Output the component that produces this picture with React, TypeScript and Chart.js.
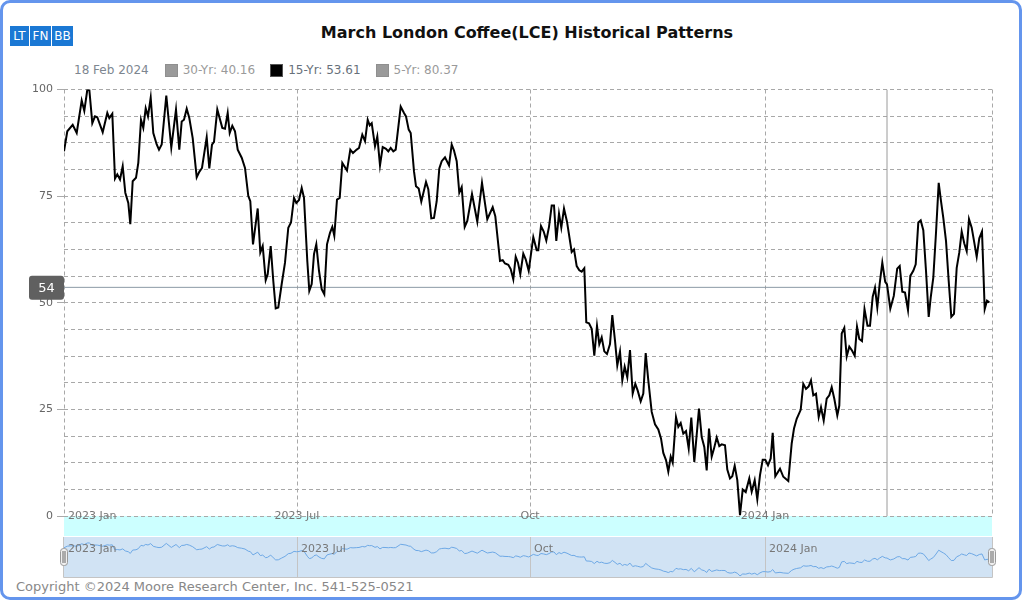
import React, { useEffect, useRef } from "react";
import { Chart, registerables } from "chart.js";

Chart.register(...registerables);

const FONT = "'DejaVu Sans', Verdana, sans-serif";

// position along the time axis (chart units) and the 15-year pattern value
const xPos = [
  0, 3.3, 8.7, 12.7, 17.7, 20.3, 23.3, 25.3, 28.3, 31,
  33.3, 38.7, 43.3, 45.3, 48.3, 51, 53.3, 56, 58.7, 61.3,
  64.3, 66.3, 68.7, 72, 74.3, 77, 79.3, 81.7, 84, 86.7,
  89.3, 92.7, 95, 97.7, 102.3, 107.3, 112, 115.3, 117.7, 120,
  122.7, 125.3, 128.7, 132.7, 135.3, 138, 142.7, 145.3, 148, 150,
  153.3, 158.3, 161, 163.7, 165.7, 168.3, 171, 173.7, 177.7, 181,
  184.3, 186.3, 189, 193.7, 196.3, 198.7, 201.7, 203.7, 206.7, 209.3,
  211.7, 214.3, 217.7, 221, 224.3, 227, 230, 232.3, 235, 237.7,
  240, 243.3, 245.3, 247.7, 250, 252.3, 255, 257.7, 260.3, 263,
  266, 268.3, 270.3, 273, 275.7, 278.3, 283, 286.3, 289, 292.7,
  295, 298.3, 301, 303.7, 305.7, 307.7, 311, 313.3, 316, 318.7,
  322, 324.3, 326.7, 329.3, 331.7, 336.7, 340, 342, 344.7, 346.7,
  350, 352, 354.7, 357.3, 362, 364.3, 367.3, 370, 372.7, 375.3,
  377.7, 381, 385, 387.7, 390, 392.7, 395.3, 397.7, 400.7, 403.3,
  408, 413.3, 418, 423.3, 428.7, 431.3, 436, 438.7, 441, 444.3,
  446.7, 449.3, 451.7, 454, 456.3, 459.3, 461.7, 464.7, 469.3, 472.7,
  474.3, 477, 479.7, 482.3, 485, 487.7, 490, 492.3, 495, 497.3,
  500, 503, 507.7, 510, 512.7, 515.3, 517.7, 520.3, 522.3, 525,
  527.7, 530.3, 533, 535.3, 537.7, 540.3, 543, 546, 548.3, 551,
  553.3, 556, 558.3, 560.7, 563.3, 566, 568.7, 571.3, 573.7, 576.7,
  579.3, 581.7, 584.3, 587.7, 591, 594.3, 597, 599.3, 602, 604.3,
  606.7, 608.7, 612, 614.3, 616.7, 619.3, 622, 624.7, 627.3, 630.3,
  635, 637.7, 640.3, 642.7, 645, 647.7, 650, 652.7, 655.3, 657.7,
  661, 663.3, 666, 668.3, 670.7, 673.3, 676, 678.7, 681.7, 685.3,
  687.7, 690.7, 693.3, 696, 698.7, 701.3, 704, 706.7, 708.7, 711.3,
  716, 719.3, 724.3, 727.7, 730, 732.7, 736.7, 739.3, 742, 744.7,
  747, 749.3, 752, 754.7, 757, 759.7, 762.7, 765.3, 767.7, 770.3,
  773.3, 775.3, 777.7, 780.3, 782.7, 785.3, 788, 790.7, 793, 795.3,
  798, 800.5, 803.5, 806, 808.7, 811, 813.3, 815.7, 818.3, 821.2,
  823, 826.3, 829.8, 833.2, 835.7, 838.3, 841, 844, 846.3, 849.3,
  851.7, 854.3, 856.7, 859.3, 862, 864.7, 866.7, 869.3, 872, 874.7,
  877, 879.3, 882, 884.7, 887.3, 890, 892.7, 895.3, 897.7, 900.3,
  902.7, 905, 907.7, 910, 912.7, 915.3, 918, 920.7, 923, 925.3,
];

const values15 = [
  85.5, 90.2, 91.7, 89.8, 97.4, 95.0, 99.9, 100, 92.1, 93.7,
  93.5, 90.0, 94.5, 93.3, 94.3, 79.1, 80.1, 78.9, 82.0, 75.8,
  73.4, 68.4, 78.5, 79.3, 82.8, 92.9, 91.0, 95.6, 93.7, 98.1,
  89.8, 87.1, 85.9, 87.1, 98.6, 86.4, 95.3, 85.9, 92.5, 92.9,
  95.5, 93.3, 88.6, 79.4, 80.7, 81.6, 88.8, 81.5, 87.1, 87.7,
  95.3, 91.0, 90.8, 94.5, 89.8, 91.5, 90.2, 85.9, 84.0, 81.6,
  75.0, 73.8, 63.7, 72.1, 61.8, 63.3, 55.3, 56.7, 63.3, 55.1,
  48.7, 48.9, 54.4, 59.4, 67.6, 68.8, 74.6, 73.4, 74.1, 76.9,
  74.6, 59.8, 52.8, 54.4, 61.4, 63.7, 57.5, 53.2, 52.0, 63.7,
  66.4, 67.8, 65.7, 74.2, 74.6, 82.8, 81.0, 85.9, 85.1, 85.9,
  86.3, 89.4, 87.9, 92.9, 91.6, 92.1, 86.7, 89.0, 82.2, 86.5,
  86.1, 85.5, 86.3, 85.5, 85.9, 96.0, 94.5, 93.7, 90.6, 89.8,
  80.8, 77.3, 76.8, 73.7, 78.3, 76.6, 69.8, 69.9, 73.8, 81.5,
  83.2, 84.1, 82.2, 87.1, 85.7, 83.2, 75.8, 77.1, 67.8, 69.2,
  75.5, 69.0, 78.1, 69.6, 72.4, 70.3, 59.8, 60.0, 59.2, 58.9,
  57.9, 55.5, 60.8, 59.4, 56.7, 61.5, 60.2, 57.5, 65.4, 62.3,
  62.3, 68.0, 66.7, 64.6, 67.8, 72.8, 72.8, 64.5, 70.9, 67.6,
  72.1, 69.0, 61.9, 62.5, 58.6, 57.6, 57.3, 58.1, 45.4, 45.2,
  43.9, 37.6, 44.6, 40.3, 41.9, 38.6, 38.0, 40.3, 47.1, 41.1,
  35.3, 38.6, 31.8, 35.0, 32.5, 38.9, 28.7, 31.0, 29.4, 26.9,
  28.7, 38.2, 31.8, 24.4, 21.5, 20.3, 18.2, 14.8, 13.1, 10.4,
  13.9, 12.5, 23.2, 20.9, 21.8, 19.3, 19.9, 15.8, 23.1, 12.7,
  25.2, 18.5, 16.2, 10.7, 20.5, 13.9, 15.8, 18.4, 16.4, 16.8,
  16.6, 10.9, 8.8, 9.3, 11.8, 8.4, 0.2, 6.2, 5.6, 8.8,
  5.7, 8.4, 3.9, 9.6, 13.2, 13.2, 11.9, 13.5, 19.5, 9.3,
  11.1, 9.2, 8.2, 17.0, 20.5, 22.8, 24.9, 31.0, 29.8, 30.4,
  31.8, 28.3, 28.7, 23.2, 25.5, 22.4, 27.5, 28.3, 30.2, 27.5,
  23.6, 25.9, 42.8, 44.1, 37.4, 39.7, 38.8, 37.6, 44.4, 41.5,
  41.0, 48.5, 44.6, 44.6, 51.4, 53.5, 48.9, 54.5, 59.4, 54.9,
  54.3, 48.6, 51.6, 58.0, 58.6, 52.6, 52.4, 48.3, 56.3, 57.5,
  59.0, 68.8, 69.3, 67.0, 57.5, 46.7, 51.2, 55.9, 66.4, 78.1,
  73.8, 69.9, 64.5, 55.1, 46.7, 47.4, 58.2, 61.8, 66.7, 63.9,
  62.1, 69.6, 67.6, 64.5, 60.8, 65.1, 66.7, 48.5, 50.5, 50.1,
];

const tickPos = [0, 233, 466, 701];
const tickLabels = ["2023 Jan", "2023 Jul", "Oct", "2024 Jan"];
const xMax = 928;
const yTickStep = 6.25;
const yLabelStep = 25;
const currentDatePos = 823;
const currentDateLabel = "18 Feb 2024";
const currentValue = 53.61;

const legendLabels = ["30-Yr", "15-Yr", "5-Yr"];
const legendValues = [40.16, 53.61, 80.37];
const legendActive = [false, true, false];

const titleText = "March London Coffee(LCE) Historical Patterns";
const logoLabels = ["LT", "FN", "BB"];
const footerText = "Copyright \u00a92024 Moore Research Center, Inc. 541-525-0521";

const points = () =>
  xPos.slice(0, Math.min(xPos.length, values15.length)).map((x, i) => ({ x, y: values15[i] }));

function roundRect(ctx: CanvasRenderingContext2D, x: number, y: number, w: number, h: number, r: number) {
  ctx.beginPath();
  ctx.moveTo(x + r, y);
  ctx.lineTo(x + w - r, y);
  ctx.quadraticCurveTo(x + w, y, x + w, y + r);
  ctx.lineTo(x + w, y + h - r);
  ctx.quadraticCurveTo(x + w, y + h, x + w - r, y + h);
  ctx.lineTo(x + r, y + h);
  ctx.quadraticCurveTo(x, y + h, x, y + h - r);
  ctx.lineTo(x, y + r);
  ctx.quadraticCurveTo(x, y, x + r, y);
  ctx.closePath();
}

const mainDecor = {
  id: "mainDecor",
  beforeDraw(chart: any) {
    const { ctx, chartArea } = chart;
    ctx.save();
    ctx.fillStyle = "#ccffff";
    ctx.fillRect(chartArea.left, chartArea.bottom, chartArea.right - chartArea.left, 20);
    ctx.restore();
  },
  afterDraw(chart: any) {
    const { ctx, chartArea, scales } = chart;
    ctx.save();
    ctx.font = `11px ${FONT}`;
    ctx.fillStyle = "#777";
    ctx.textBaseline = "middle";
    tickPos.forEach((v, i) => {
      const px = scales.x.getPixelForValue(v);
      if (i === 0) {
        ctx.textAlign = "left";
        ctx.fillText(tickLabels[i], px + 4, chartArea.bottom);
      } else {
        ctx.textAlign = "center";
        ctx.fillText(tickLabels[i], px, chartArea.bottom);
      }
    });
    const y = scales.y.getPixelForValue(currentValue);
    ctx.fillStyle = "#606060";
    roundRect(ctx, 29, y - 11.5, 35, 24, 3);
    ctx.fill();
    ctx.fillStyle = "#ffffff";
    ctx.font = `13px ${FONT}`;
    ctx.textAlign = "center";
    ctx.fillText(String(Math.round(currentValue)), 46.5, y + 1);
    ctx.restore();
  },
};

const navDecor = {
  id: "navDecor",
  beforeDraw(chart: any) {
    const { ctx, chartArea } = chart;
    ctx.save();
    ctx.fillStyle = "#d1e3f4";
    ctx.fillRect(chartArea.left, chartArea.top, chartArea.right - chartArea.left, chartArea.bottom - chartArea.top);
    ctx.restore();
  },
  afterDraw(chart: any) {
    const { ctx, chartArea, scales } = chart;
    ctx.save();
    ctx.font = `11px ${FONT}`;
    ctx.fillStyle = "#777";
    ctx.textBaseline = "middle";
    ctx.textAlign = "left";
    tickPos.forEach((v, i) => {
      const px = scales.x.getPixelForValue(v);
      ctx.fillText(tickLabels[i], px + 4, chartArea.top + 12);
    });
    ctx.strokeStyle = "#c4c4c4";
    ctx.lineWidth = 1;
    ctx.beginPath();
    ctx.moveTo(chartArea.left - 0.5, chartArea.top);
    ctx.lineTo(chartArea.left - 0.5, chartArea.bottom + 0.5);
    ctx.lineTo(chartArea.right + 0.5, chartArea.bottom + 0.5);
    ctx.lineTo(chartArea.right + 0.5, chartArea.top);
    ctx.stroke();
    [chartArea.left - 4, chartArea.right - 4].forEach((hx) => {
      roundRect(ctx, hx + 0.5, chartArea.top + 11.5, 7, 17, 3);
      ctx.fillStyle = "#efefef";
      ctx.fill();
      ctx.strokeStyle = "#9a9a9a";
      ctx.stroke();
      ctx.fillStyle = "#ababab";
      ctx.fillRect(hx + 2, chartArea.top + 14, 4, 12);
    });
    ctx.restore();
  },
};

export default function App() {
  const mainRef = useRef<HTMLCanvasElement>(null);
  const navRef = useRef<HTMLCanvasElement>(null);

  useEffect(() => {
    if (!mainRef.current || !navRef.current) return;
    const main = new Chart(mainRef.current, {
      type: "line",
      data: {
        datasets: [
          {
            data: points(),
            borderColor: "#000000",
            borderWidth: 2,
            pointRadius: 0,
            tension: 0,
            order: 0,
          },
          {
            data: [
              { x: 0, y: currentValue },
              { x: xMax, y: currentValue },
            ],
            borderColor: "#8c9aa6",
            borderWidth: 1,
            pointRadius: 0,
            order: 1,
          },
          {
            data: [
              { x: currentDatePos, y: 0 },
              { x: currentDatePos, y: 100 },
            ],
            borderColor: "#9a9a9a",
            borderWidth: 1,
            pointRadius: 0,
            order: 1,
          },
        ],
      },
      options: {
        animation: false,
        responsive: false,
        maintainAspectRatio: false,
        events: [],
        layout: { padding: { left: 0, right: 32, top: 8, bottom: 24 } },
        plugins: { legend: { display: false }, tooltip: { enabled: false }, title: { display: false } },
        scales: {
          x: {
            type: "linear",
            min: 0,
            max: xMax,
            afterBuildTicks: (s: any) => {
              s.ticks = [...tickPos, xMax].map((v) => ({ value: v }));
            },
            ticks: { display: false },
            grid: { color: "#a8a8a8", drawTicks: false, tickLength: 0 },
            border: { display: false, dash: [4, 3] },
            afterFit: (s: any) => {
              s.height = 0;
            },
          },
          y: {
            min: 0,
            max: 100,
            ticks: {
              stepSize: yTickStep,
              autoSkip: false,
              callback: (v: any) => (Number(v) % yLabelStep === 0 ? String(v) : ""),
              color: "#666666",
              font: { family: FONT, size: 11, lineHeight: 1 },
              padding: 4,
            },
            grid: {
              color: "#a8a8a8",
              tickLength: 7,
              tickBorderDash: [],
              tickColor: (c: any) =>
                c.tick && Number(c.tick.value) % yLabelStep === 0 ? "#aaaaaa" : "rgba(0,0,0,0)",
            },
            border: { display: false, dash: [4, 3] },
            afterFit: (s: any) => {
              s.width = 64;
            },
          },
        },
      } as any,
      plugins: [mainDecor],
    });

    const nav = new Chart(navRef.current, {
      type: "line",
      data: {
        datasets: [
          {
            data: points(),
            borderColor: "#6ea9e6",
            borderWidth: 1,
            pointRadius: 0,
            tension: 0,
          },
        ],
      },
      options: {
        animation: false,
        responsive: false,
        maintainAspectRatio: false,
        events: [],
        layout: { padding: { left: 64, right: 32, top: 0, bottom: 1 } },
        plugins: { legend: { display: false }, tooltip: { enabled: false } },
        scales: {
          x: {
            type: "linear",
            min: 0,
            max: xMax,
            afterBuildTicks: (s: any) => {
              s.ticks = tickPos.slice(1).map((v) => ({ value: v }));
            },
            ticks: { display: false },
            grid: { color: "#c4c4c4", drawTicks: false, tickLength: 0 },
            border: { display: false },
            afterFit: (s: any) => {
              s.height = 0;
            },
          },
          y: { display: false, min: -3, max: 118 },
        },
      } as any,
      plugins: [navDecor],
    });

    return () => {
      main.destroy();
      nav.destroy();
    };
  }, []);

  const legendText = (i: number) => `${legendLabels[i]}: ${legendValues[i].toFixed(2)}`;

  return (
    <div
      style={{
        position: "absolute",
        left: 0,
        top: 0,
        width: 1024,
        height: 600,
        overflow: "hidden",
        background: "#ffffff",
        fontFamily: FONT,
      }}
    >
      <div
        style={{
          position: "absolute",
          left: 0,
          top: 0,
          width: 1022,
          height: 600,
          border: "3px solid #6495ed",
          borderRadius: 10,
          boxSizing: "border-box",
        }}
      />
      <div style={{ position: "absolute", left: 10, top: 26, display: "flex", gap: 1 }}>
        {logoLabels.map((l) => (
          <div
            key={l}
            style={{
              width: l === "LT" ? 19 : 21,
              height: 20,
              lineHeight: "20px",
              background: "#1a78d4",
              color: "#ffffff",
              fontSize: 12,
              textAlign: "center",
            }}
          >
            {l}
          </div>
        ))}
      </div>
      <div
        style={{
          position: "absolute",
          left: 27,
          top: 23,
          width: 1000,
          textAlign: "center",
          fontSize: 16,
          lineHeight: "20px",
          fontWeight: "bold",
          color: "#111111",
        }}
      >
        {titleText}
      </div>
      <div
        style={{
          position: "absolute",
          left: 74,
          top: 61,
          height: 18,
          display: "flex",
          alignItems: "center",
          fontSize: 12,
          whiteSpace: "nowrap",
        }}
      >
        <span style={{ color: "#7d8690", marginRight: 16 }}>{currentDateLabel}</span>
        {legendLabels.map((_, i) => (
          <span key={i} style={{ display: "flex", alignItems: "center", marginRight: 15 }}>
            <span
              style={{
                display: "inline-block",
                width: 13,
                height: 13,
                boxSizing: "border-box",
                background: legendActive[i] ? "#000000" : "#9a9a9a",
                border: legendActive[i] ? "1px solid #555555" : "1px solid #8f8f8f",
                marginRight: 5,
              }}
            />
            <span style={{ color: legendActive[i] ? "#67707a" : "#9a9a9a" }}>{legendText(i)}</span>
          </span>
        ))}
      </div>
      <canvas
        ref={mainRef}
        width={1024}
        height={460}
        style={{ position: "absolute", left: 0, top: 80, width: 1024, height: 460, display: "block" }}
      />
      <canvas
        ref={navRef}
        width={1024}
        height={41}
        style={{ position: "absolute", left: 0, top: 537, width: 1024, height: 41, display: "block" }}
      />
      <div
        style={{
          position: "absolute",
          left: 16,
          top: 578,
          fontSize: 13,
          lineHeight: "18px",
          color: "#888888",
          whiteSpace: "nowrap",
        }}
      >
        {footerText}
      </div>
    </div>
  );
}
